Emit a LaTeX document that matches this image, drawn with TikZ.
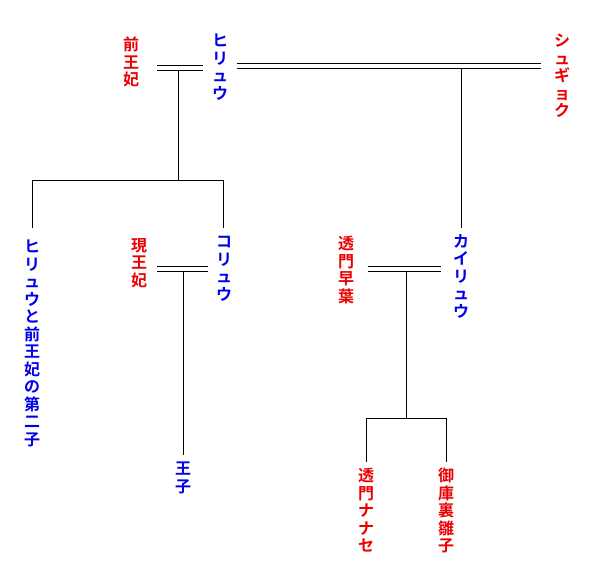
\documentclass[tikz,border=0pt]{standalone}
\usepackage{fontspec}
\newfontfamily\jp{Noto Sans CJK JP}[BoldFont={Noto Sans CJK JP Bold}]
\definecolor{nr}{RGB}{235,0,0}
\definecolor{nb}{RGB}{0,0,235}
\begin{document}
\begin{tikzpicture}[x=1pt,y=-1pt,
  nm/.style={font=\jp\bfseries\fontsize{16}{17.5}\selectfont,align=center,inner sep=0pt,anchor=north},
  f/.style={nm,text=nr}, m/.style={nm,text=nb},
  ln/.style={line width=0.8pt,black}]
\useasboundingbox (0,0) rectangle (600,581);
\node[f] (zo) at (131,37) {前\\王\\妃};
\node[m] (hi) at (220,34) {ヒ\\リ\\ュ\\ウ};
\node[f] (sh) at (562,34) {シ\\ュ\\ギ\\ョ\\ク};
\node[m] (c1) at (32,240) {ヒ\\リ\\ュ\\ウ\\と\\前\\王\\妃\\の\\第\\二\\子};
\node[f] (go) at (139,238) {現\\王\\妃};
\node[m] (ko) at (224,236) {コ\\リ\\ュ\\ウ};
\node[f] (to) at (346,236) {透\\門\\早\\葉};
\node[m] (ka) at (461,234) {カ\\イ\\リ\\ュ\\ウ};
\node[m] (oj) at (183,462) {王\\子};
\node[f] (na) at (366,468) {透\\門\\ナ\\ナ\\セ};
\node[f] (hn) at (446,468) {御\\庫\\裏\\雛\\子};
% marriages
\draw[ln] (157,65)--(203,65) (157,70)--(203,70);
\draw[ln] (237,63)--(541,63) (237,68)--(541,68);
\draw[ln] (157,266)--(208,266) (157,271)--(208,271);
\draw[ln] (368,266)--(441,266) (368,271)--(441,271);
% descent
\draw[ln] (178,70)--(178,180) (32,228)--(32,180)--(223,180)--(223,228);
\draw[ln] (461,68)--(461,228);
\draw[ln] (183,271)--(183,455);
\draw[ln] (406,271)--(406,418) (366,462)--(366,418)--(446,418)--(446,462);
\end{tikzpicture}
\end{document}
